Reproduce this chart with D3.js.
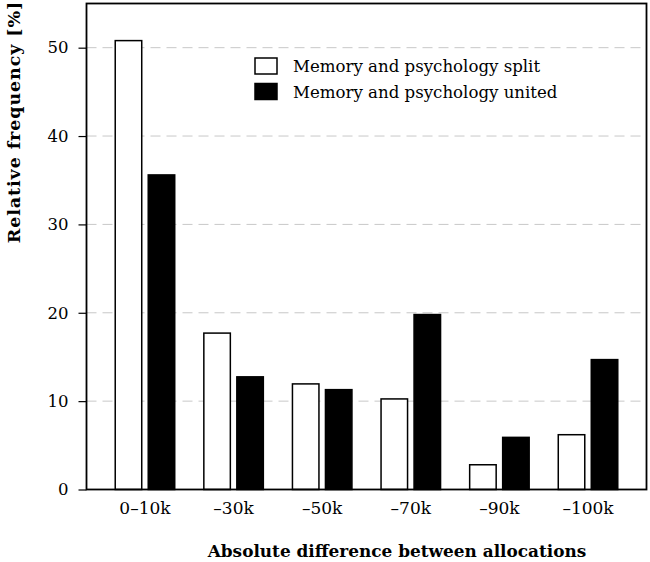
<!DOCTYPE html>
<html>
<head>
<meta charset="utf-8">
<script src="https://cdn.jsdelivr.net/npm/d3@7"></script>
<style>
  body { margin: 0; background: #fff; }
  svg text { font-family: "DejaVu Serif", serif; fill: #000; }
</style>
</head>
<body>
<svg id="chart" width="650" height="562"></svg>
<script>
// Data
const categories = ["0\u201310k", "\u201330k", "\u201350k", "\u201370k", "\u201390k", "\u2013100k"];
const splitValues = [50.8, 17.7, 11.95, 10.25, 2.8, 6.2];
const unitedValues = [35.6, 12.75, 11.3, 19.8, 5.9, 14.7];
const seriesNames = ["Memory and psychology split", "Memory and psychology united"];
const yTicks = [0, 10, 20, 30, 40, 50];

const svg = d3.select("#chart");
const plotLeft = 86.5, plotRight = 646.5, plotTop = 3.5, plotBottom = 489.5;
const serif = "'DejaVu Serif', serif";

// Scales
const x = d3.scaleBand()
    .domain(categories)
    .range([plotLeft, plotRight])
    .paddingInner(0)
    .paddingOuter(0.16);

const y = d3.scaleLinear()
    .domain([0, 55])
    .range([plotBottom, plotTop]);

const barW = 26.5, offset = 16.5;

// Gridlines (dashed)
svg.append("g")
    .selectAll("line")
    .data(yTicks.filter(d => d > 0))
    .enter().append("line")
    .attr("x1", plotLeft)
    .attr("x2", plotRight)
    .attr("y1", d => y(d))
    .attr("y2", d => y(d))
    .attr("stroke", "#c8c8c8")
    .attr("stroke-width", 1)
    .attr("stroke-dasharray", "10,6");

// Bars
const groups = svg.append("g")
    .selectAll("g")
    .data(categories.map((c, i) => ({ cat: c, split: splitValues[i], united: unitedValues[i] })))
    .enter().append("g");

groups.append("rect")
    .attr("x", d => x(d.cat) + x.bandwidth() / 2 - offset - barW / 2)
    .attr("y", d => y(d.split))
    .attr("width", barW)
    .attr("height", d => y(0) - y(d.split))
    .attr("fill", "#fff")
    .attr("stroke", "#000")
    .attr("stroke-width", 1.5);

groups.append("rect")
    .attr("x", d => x(d.cat) + x.bandwidth() / 2 + offset - barW / 2)
    .attr("y", d => y(d.united))
    .attr("width", barW)
    .attr("height", d => y(0) - y(d.united))
    .attr("fill", "#000")
    .attr("stroke", "#000")
    .attr("stroke-width", 1.5);

// Frame
svg.append("rect")
    .attr("x", plotLeft)
    .attr("y", plotTop)
    .attr("width", plotRight - plotLeft)
    .attr("height", plotBottom - plotTop)
    .attr("fill", "none")
    .attr("stroke", "#000")
    .attr("stroke-width", 1.8);

// Y axis ticks and labels
const yAxis = svg.append("g")
    .attr("transform", "translate(" + plotLeft + ",0)")
    .call(d3.axisLeft(y).tickValues(yTicks).tickSize(8).tickPadding(10).tickFormat(d3.format("d")));
yAxis.select(".domain").remove();
yAxis.attr("font-family", serif).attr("font-size", 16.5);
yAxis.selectAll(".tick line").attr("stroke", "#000").attr("stroke-width", 1.2);
yAxis.selectAll("text").attr("fill", "#000");

// X axis labels
const xAxis = svg.append("g")
    .attr("transform", "translate(0," + plotBottom + ")")
    .call(d3.axisBottom(x).tickSize(0).tickPadding(12));
xAxis.select(".domain").remove();
xAxis.attr("font-family", serif).attr("font-size", 17);
xAxis.selectAll("text").attr("fill", "#000");

// Axis titles
svg.append("text")
    .attr("x", 397)
    .attr("y", 557)
    .attr("text-anchor", "middle")
    .attr("font-family", serif)
    .attr("font-size", 16.9)
    .attr("font-weight", "bold")
    .text("Absolute difference between allocations");

svg.append("text")
    .attr("transform", "translate(20,122) rotate(-90)")
    .attr("text-anchor", "middle")
    .attr("font-family", serif)
    .attr("font-size", 17.5)
    .attr("font-weight", "bold")
    .attr("letter-spacing", "0.9px")
    .text("Relative frequency [%]");

// Legend
const legend = svg.append("g")
    .selectAll("g")
    .data(seriesNames)
    .enter().append("g")
    .attr("transform", (d, i) => "translate(255," + (58 + i * 25.5) + ")");

legend.append("rect")
    .attr("width", 22)
    .attr("height", 16)
    .attr("fill", (d, i) => i === 0 ? "#fff" : "#000")
    .attr("stroke", "#000")
    .attr("stroke-width", 1.5);

legend.append("text")
    .attr("x", 38)
    .attr("y", 14)
    .attr("font-family", serif)
    .attr("font-size", 16.6)
    .text(d => d);
</script>
</body>
</html>
